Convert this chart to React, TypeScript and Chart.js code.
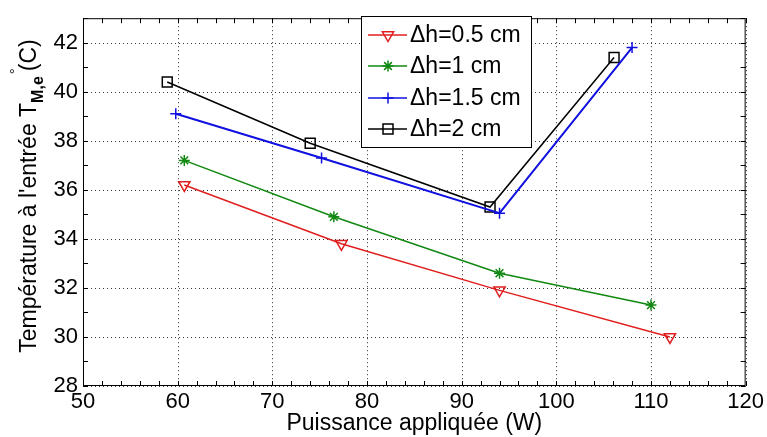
import React, { useEffect, useRef } from 'react';
import { Chart, registerables } from 'chart.js';
Chart.register(...registerables);

const xTicks = [50, 60, 70, 80, 90, 100, 110, 120];
const yTicks = [28, 30, 32, 34, 36, 38, 40, 42];
const xMinorStep = 2;
const yMinorStep = 1;
const seriesLabels = ['Δh=0.5 cm', 'Δh=1 cm', 'Δh=1.5 cm', 'Δh=2 cm'];
const x05 = [60.7, 77.3, 94.0, 112.0];
const y05 = [36.2, 33.8, 31.9, 30.0];
const x10 = [60.7, 76.5, 94.0, 110.0];
const y10 = [37.2, 34.9, 32.6, 31.3];
const x15 = [59.8, 75.2, 94.0, 108.0];
const y15 = [39.1, 37.3, 35.05, 41.8];
const x20 = [58.9, 74.0, 93.0, 106.1];
const y20 = [40.4, 37.9, 35.3, 41.4];

const colors = ['#e01e1e', '#118811', '#1010e0', '#000000'];
const FONT = "'Liberation Sans', Arial, sans-serif";
const TICK_SIZE = 22;
const TITLE_SIZE = 23;

function pts(xs: number[], ys: number[]) {
  return xs.map((x, i) => ({ x, y: ys[i] }));
}

function drawMarker(ctx: CanvasRenderingContext2D, kind: number, x: number, y: number, color: string) {
  ctx.save();
  ctx.strokeStyle = color;
  ctx.lineWidth = 1.5;
  ctx.setLineDash([]);
  ctx.beginPath();
  if (kind === 0) {
    const r = 6.5;
    ctx.moveTo(x, y + r);
    ctx.lineTo(x - r * 0.866, y - r * 0.5);
    ctx.lineTo(x + r * 0.866, y - r * 0.5);
    ctx.closePath();
  } else if (kind === 1) {
    const r = 5.5;
    for (let k = 0; k < 4; k++) {
      const a = (k * Math.PI) / 4;
      ctx.moveTo(x - r * Math.cos(a), y - r * Math.sin(a));
      ctx.lineTo(x + r * Math.cos(a), y + r * Math.sin(a));
    }
  } else if (kind === 2) {
    const r = 5.5;
    ctx.moveTo(x - r, y);
    ctx.lineTo(x + r, y);
    ctx.moveTo(x, y - r);
    ctx.lineTo(x, y + r);
  } else {
    const s = 5;
    ctx.rect(x - s, y - s, 2 * s, 2 * s);
  }
  ctx.stroke();
  ctx.restore();
}

const gridPlugin = {
  id: 'dottedGrid',
  beforeDatasetsDraw(chart: any) {
    const { ctx, chartArea } = chart;
    const xs = chart.scales.x;
    const ys = chart.scales.y;
    const { left, right, top, bottom } = chartArea;
    ctx.save();
    ctx.strokeStyle = '#333';
    ctx.lineWidth = 1;
    ctx.setLineDash([1, 3]);
    ctx.beginPath();
    xTicks.forEach((v) => {
      const px = Math.round(xs.getPixelForValue(v)) + 0.5;
      ctx.moveTo(px, top);
      ctx.lineTo(px, bottom);
    });
    yTicks.forEach((v) => {
      const py = Math.round(ys.getPixelForValue(v)) + 0.5;
      ctx.moveTo(left, py);
      ctx.lineTo(right, py);
    });
    ctx.stroke();
    ctx.restore();
  },
};

const overlay = {
  id: 'overlay',
  afterDraw(chart: any) {
    const { ctx, chartArea } = chart;
    const xs = chart.scales.x;
    const ys = chart.scales.y;
    const { left, right, top, bottom } = chartArea;
    ctx.save();
    ctx.strokeStyle = '#000';
    ctx.lineWidth = 1;
    ctx.setLineDash([]);
    ctx.strokeRect(left + 0.5, top + 0.5, right - left - 1, bottom - top - 1);
    const tl = 5;
    ctx.beginPath();
    for (let v = xs.min; v <= xs.max + 1e-9; v += xMinorStep) {
      const px = Math.round(xs.getPixelForValue(v)) + 0.5;
      ctx.moveTo(px, bottom);
      ctx.lineTo(px, bottom - tl);
      ctx.moveTo(px, top);
      ctx.lineTo(px, top + tl);
    }
    for (let v = ys.min; v <= ys.max + 1e-9; v += yMinorStep) {
      const py = Math.round(ys.getPixelForValue(v)) + 0.5;
      ctx.moveTo(left, py);
      ctx.lineTo(left + tl, py);
      ctx.moveTo(right, py);
      ctx.lineTo(right - tl, py);
    }
    ctx.stroke();

    // y title
    ctx.save();
    ctx.translate(28, 196);
    ctx.rotate(-Math.PI / 2);
    ctx.fillStyle = '#000';
    ctx.textBaseline = 'alphabetic';
    ctx.textAlign = 'left';
    const main = "Température à l'entrée T";
    const sub = 'M,e';
    const tail = '(C)';
    ctx.font = `${TITLE_SIZE}px ${FONT}`;
    const wMain = ctx.measureText(main).width;
    const wTail = ctx.measureText(tail).width;
    ctx.font = `bold 16px ${FONT}`;
    const wSub = ctx.measureText(sub).width;
    const gap = 5;
    const total = wMain + wSub + gap + wTail;
    let cx = -total / 2;
    const base = 8;
    ctx.font = `${TITLE_SIZE}px ${FONT}`;
    ctx.fillText(main, cx, base);
    cx += wMain;
    ctx.font = `bold 16px ${FONT}`;
    ctx.fillText(sub, cx, base + 7);
    cx += wSub + gap;
    ctx.font = `15px ${FONT}`;
    ctx.fillText('°', cx - 3, base - 16);
    ctx.font = `${TITLE_SIZE}px ${FONT}`;
    ctx.fillText(tail, cx, base);
    ctx.restore();

    // legend
    const lx = 361, ly = 16, lw = 170, lh = 131;
    ctx.fillStyle = '#fff';
    ctx.fillRect(lx, ly, lw, lh);
    ctx.strokeStyle = '#000';
    ctx.lineWidth = 1;
    ctx.strokeRect(lx + 0.5, ly + 0.5, lw, lh);
    const rows = [35, 66, 98, 129];
    ctx.font = `${TITLE_SIZE}px ${FONT}`;
    ctx.textBaseline = 'middle';
    ctx.textAlign = 'left';
    seriesLabels.forEach((lab, i) => {
      const y = rows[i];
      ctx.strokeStyle = colors[i];
      ctx.lineWidth = 1.5;
      ctx.beginPath();
      ctx.moveTo(368, y);
      ctx.lineTo(407, y);
      ctx.stroke();
      drawMarker(ctx, i, 388, y, colors[i]);
      ctx.fillStyle = '#000';
      ctx.fillText(lab, 410, y + 1);
    });
    ctx.restore();
  },
};

export default function App() {
  const ref = useRef<HTMLCanvasElement>(null);
  useEffect(() => {
    document.body.style.margin = '0';
    const canvas = ref.current!;
    const styles: any[] = [
      { pointStyle: 'triangle', rotation: 180, pointRadius: 6.5 },
      { pointStyle: 'star', rotation: 0, pointRadius: 5.5 },
      { pointStyle: 'cross', rotation: 0, pointRadius: 5.5 },
      { pointStyle: 'rect', rotation: 0, pointRadius: 7 },
    ];
    const dataArr = [pts(x05, y05), pts(x10, y10), pts(x15, y15), pts(x20, y20)];
    const chart = new Chart(canvas, {
      type: 'line',
      data: {
        datasets: dataArr.map((d, i) => ({
          label: seriesLabels[i],
          data: d,
          borderColor: colors[i],
          backgroundColor: 'rgba(0,0,0,0)',
          borderWidth: i === 2 ? 2 : 1.5,
          pointStyle: styles[i].pointStyle,
          rotation: styles[i].rotation,
          pointRadius: styles[i].pointRadius,
          pointBorderColor: colors[i],
          pointBackgroundColor: 'rgba(0,0,0,0)',
          pointBorderWidth: 1.5,
          tension: 0,
        })),
      },
      options: {
        responsive: false,
        animation: false,
        layout: { padding: { left: 0, top: 13, right: 19, bottom: 0 } },
        plugins: { legend: { display: false }, tooltip: { enabled: false } },
        scales: {
          x: {
            type: 'linear',
            min: 50,
            max: 120,
            afterBuildTicks: (s: any) => {
              s.ticks = xTicks.map((v) => ({ value: v }));
            },
            afterFit: (s: any) => {
              s.height = 51;
            },
            grid: { display: false, drawTicks: false },
            border: { display: false },
            ticks: { color: '#000', font: { family: FONT, size: TICK_SIZE }, padding: 3, maxRotation: 0 },
            title: {
              display: true,
              text: 'Puissance appliquée (W)',
              color: '#000',
              font: { family: FONT, size: TITLE_SIZE },
              padding: { top: 0, bottom: 0 },
            },
          },
          y: {
            type: 'linear',
            min: 28,
            max: 43,
            afterBuildTicks: (s: any) => {
              s.ticks = yTicks.map((v) => ({ value: v }));
            },
            afterFit: (s: any) => {
              s.width = 83;
            },
            grid: { display: false, drawTicks: false },
            border: { display: false },
            ticks: { color: '#000', font: { family: FONT, size: TICK_SIZE }, padding: 5 },
          },
        },
      },
      plugins: [gridPlugin, overlay],
    });
    return () => chart.destroy();
  }, []);
  return (
    <div style={{ width: 767, height: 437 }}>
      <canvas ref={ref} width={767} height={437} style={{ display: 'block' }} />
    </div>
  );
}
